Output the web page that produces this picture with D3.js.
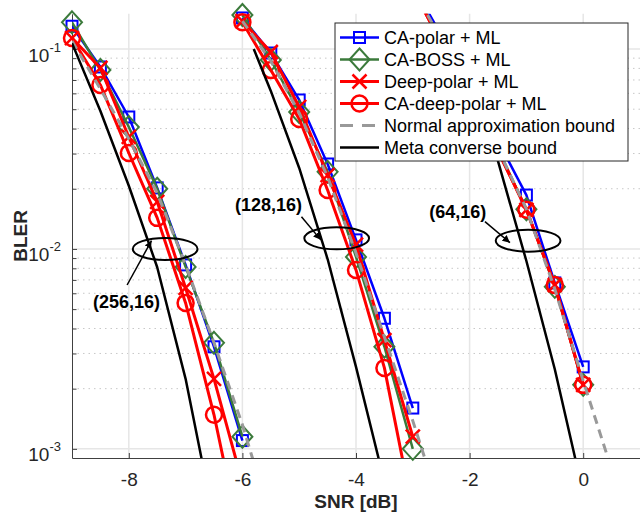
<!DOCTYPE html>
<html>
<head>
<meta charset="utf-8">
<script src="https://cdnjs.cloudflare.com/ajax/libs/d3/7.8.5/d3.min.js"></script>
<style>
body { margin: 0; background: #fff; }
svg { font-family: "Liberation Sans", Arial, Helvetica, sans-serif; }
</style>
</head>
<body>
<div id="chart"></div>
<script>
// SNR grid of each code (256,16), (128,16), (64,16)
var snrCodes = [
    [-9, -8.5, -8, -7.5, -7, -6.5, -6],
    [-6, -5.5, -5, -4.5, -4, -3.5, -3],
    [-3, -2.5, -2, -1.5, -1, -0.5, 0]
];
var codeLabels = ['(256,16)', '(128,16)', '(64,16)'];

var caPolar = [
    [0.13, 0.0813, 0.0457, 0.0202, 0.00832, 0.00324, 0.0011],
    [0.143, 0.0955, 0.0556, 0.0266, 0.0111, 0.0045, 0.0016],
    [0.209, 0.1175, 0.0631, 0.0347, 0.0186, 0.00676, 0.00257]
];
var caBoss = [
    [0.136, 0.0785, 0.0407, 0.02, 0.00813, 0.00339, 0.00115],
    [0.148, 0.0881, 0.0484, 0.0243, 0.00912, 0.00324, 0.001],
    [0.204, 0.1096, 0.0589, 0.0316, 0.0158, 0.00646, 0.00209]
];
var deepPolar = [
    [0.1135, 0.0804, 0.0363, 0.0172, 0.00638, 0.00224, 0.000676],
    [0.138, 0.0966, 0.0513, 0.0234, 0.0105, 0.0035, 0.00115],
    [0.2, 0.107, 0.0575, 0.0309, 0.0157, 0.0066, 0.00209]
];
var caDeepPolar = [
    [0.1135, 0.0661, 0.0302, 0.0143, 0.00537, 0.00148, 0.000316],
    [0.136, 0.0785, 0.0447, 0.0197, 0.00785, 0.00254, 0.00049],
    [0.2, 0.107, 0.0575, 0.0309, 0.0157, 0.0066, 0.00209]
];

var snrNormal = [
    [-9, -8.5, -8, -7.5, -7, -6.5, -6, -5.5],
    [-6, -5.5, -5, -4.5, -4, -3.5, -3, -2.5],
    [-3, -2.5, -2, -1.5, -1, -0.5, 0, 0.5]
];
var normalApprox = [
    [0.1096, 0.0631, 0.0355, 0.01905, 0.00832, 0.00339, 0.00132, 0.000447],
    [0.138, 0.0871, 0.0479, 0.0229, 0.00955, 0.00363, 0.00138, 0.0005],
    [0.2, 0.112, 0.0603, 0.0316, 0.0158, 0.0063, 0.00219, 0.00079]
];

var snrMeta = [
    [-9, -8.5, -8, -7.5, -7, -6.5],
    [-5.8, -5.5, -5, -4.5, -4, -3.5],
    [-2.3, -2, -1.5, -1, -0.5, 0]
];
var metaConverse = [
    [0.107, 0.049, 0.0207, 0.0081, 0.00224, 0.000437],
    [0.1, 0.0617, 0.0254, 0.0089, 0.00257, 0.000684],
    [0.1, 0.0617, 0.0275, 0.0087, 0.0025, 0.0006]
];

// annotation ellipses (centre in data units) and label / arrow anchors
var ellipseSnr = [-7.36, -4.34, -0.97];
var ellipseBler = [0.01, 0.0113, 0.011];
var labelSnr = [-8.04, -5.54, -2.21];
var labelBler = [0.00545, 0.0166, 0.01536];
var arrowFrom = [[-8.03, 0.0066], [-4.96, 0.0145], [-1.73, 0.0137]];
var arrowTo = [[-7.6, 0.011], [-4.62, 0.0111], [-1.29, 0.01075]];

var xTicks = [-8, -6, -4, -2, 0];
var yTicks = [1e-3, 1e-2, 1e-1];
var yTickExp = ['-3', '-2', '-1'];

var series = [
    { name: 'CA-polar + ML', snr: snrCodes, values: caPolar, color: '#0000ff', marker: 'square', width: 2.5 },
    { name: 'CA-BOSS + ML', snr: snrCodes, values: caBoss, color: '#3b7a3b', marker: 'diamond', width: 2.5 },
    { name: 'Deep-polar + ML', snr: snrCodes, values: deepPolar, color: '#ff0000', marker: 'cross', width: 3 },
    { name: 'CA-deep-polar + ML', snr: snrCodes, values: caDeepPolar, color: '#ff0000', marker: 'circle', width: 3 },
    { name: 'Normal approximation bound', snr: snrNormal, values: normalApprox, color: '#999999', marker: null, width: 3, dash: '9,6' },
    { name: 'Meta converse bound', snr: snrMeta, values: metaConverse, color: '#000000', marker: null, width: 2.5 }
];

var width = 640, height = 520;
var plotLeft = 72, plotRight = 640, plotTop = 13.8, plotBottom = 458;

var xScale = d3.scaleLinear().domain([-9, 1]).range([plotLeft, plotRight]);
var yScale = d3.scaleLog().domain([9e-4, 0.15]).range([plotBottom, plotTop]);

var svg = d3.select('#chart').append('svg')
    .attr('width', width)
    .attr('height', height);

var defs = svg.append('defs');
defs.append('clipPath').attr('id', 'plotclip')
    .append('rect')
    .attr('x', plotLeft).attr('y', plotTop)
    .attr('width', plotRight - plotLeft).attr('height', plotBottom - plotTop);

var arrowDef = defs.append('marker')
    .attr('id', 'arrowhead')
    .attr('viewBox', '0 0 10 10')
    .attr('refX', 10).attr('refY', 5)
    .attr('markerWidth', 5).attr('markerHeight', 5)
    .attr('markerUnits', 'strokeWidth')
    .attr('orient', 'auto');
arrowDef.append('path').attr('d', 'M0,0 L10,5 L0,10 Z').attr('fill', '#000');

// grid
var minorTicks = [];
[1e-3, 1e-2].forEach(function(dec) {
    for (var k = 2; k <= 9; k++) minorTicks.push(dec * k);
});

svg.append('g').attr('class', 'minor-grid').selectAll('line')
    .data(minorTicks).enter()
    .append('line')
    .attr('x1', plotLeft).attr('x2', plotRight)
    .attr('y1', function(d) { return yScale(d); })
    .attr('y2', function(d) { return yScale(d); })
    .attr('stroke', '#c8c8c8')
    .attr('stroke-width', 1)
    .attr('stroke-dasharray', '1.5,4');

svg.append('g').attr('class', 'major-grid').selectAll('line')
    .data(yTicks).enter()
    .append('line')
    .attr('x1', plotLeft).attr('x2', plotRight)
    .attr('y1', function(d) { return yScale(d); })
    .attr('y2', function(d) { return yScale(d); })
    .attr('stroke', '#e6e6e6')
    .attr('stroke-width', 1.5);

svg.append('g').attr('class', 'major-grid').selectAll('line')
    .data(xTicks).enter()
    .append('line')
    .attr('x1', function(d) { return xScale(d); })
    .attr('x2', function(d) { return xScale(d); })
    .attr('y1', plotTop).attr('y2', plotBottom)
    .attr('stroke', '#e6e6e6')
    .attr('stroke-width', 1.5);

// axes
var xAxis = svg.append('g')
    .attr('class', 'x axis')
    .attr('transform', 'translate(0,' + plotBottom + ')')
    .call(d3.axisBottom(xScale).tickValues(xTicks).tickSize(-5).tickSizeOuter(0).tickPadding(14.5)
        .tickFormat(function(d) { return String(d); }));
xAxis.select('.domain').attr('stroke', '#404040');
xAxis.selectAll('.tick line').attr('stroke', '#404040');
xAxis.selectAll('.tick text')
    .attr('font-size', 19)
    .attr('font-family', '"Liberation Sans", Arial, sans-serif')
    .attr('fill', '#262626');

var yAxis = svg.append('g')
    .attr('class', 'y axis')
    .attr('transform', 'translate(' + plotLeft + ',0)')
    .call(d3.axisLeft(yScale).tickValues(yTicks).tickSize(-5).tickSizeOuter(0).tickFormat(''));
yAxis.select('.domain').attr('stroke', '#404040');
yAxis.selectAll('.tick line').attr('stroke', '#404040');

var yMinor = svg.append('g')
    .attr('transform', 'translate(' + plotLeft + ',0)')
    .call(d3.axisLeft(yScale).tickValues(minorTicks).tickSize(-4.5).tickSizeOuter(0).tickFormat(''));
yMinor.select('.domain').remove();
yMinor.selectAll('.tick line').attr('stroke', '#404040');

var yLabels = svg.append('g').attr('class', 'y-labels').selectAll('text')
    .data(yTicks).enter()
    .append('text')
    .attr('x', 61)
    .attr('y', function(d) { return yScale(d) + 12.5; })
    .attr('text-anchor', 'end')
    .attr('fill', '#262626')
    .attr('font-size', 19);
yLabels.append('tspan').text('10');
yLabels.append('tspan')
    .attr('dy', -10)
    .attr('font-size', 13)
    .text(function(d, i) { return yTickExp[i]; });

svg.append('text')
    .attr('x', (plotLeft + plotRight) / 2)
    .attr('y', 508)
    .attr('text-anchor', 'middle')
    .attr('font-weight', 'bold')
    .attr('font-size', 19)
    .attr('fill', '#262626')
    .text('SNR [dB]');

svg.append('text')
    .attr('transform', 'translate(27,' + ((plotTop + plotBottom) / 2) + ') rotate(-90)')
    .attr('text-anchor', 'middle')
    .attr('font-weight', 'bold')
    .attr('font-size', 19)
    .attr('fill', '#262626')
    .text('BLER');

// curves
var line = d3.line()
    .x(function(d) { return xScale(d[0]); })
    .y(function(d) { return yScale(d[1]); });

function drawMarker(sel, type, color) {
    if (type === 'square') {
        sel.append('rect')
            .attr('x', -5.5).attr('y', -5.5)
            .attr('width', 11).attr('height', 11)
            .attr('fill', 'none').attr('stroke', color).attr('stroke-width', 2);
    } else if (type === 'diamond') {
        sel.append('path')
            .attr('d', 'M0,-11 L10,0 L0,11 L-10,0 Z')
            .attr('fill', 'none').attr('stroke', color).attr('stroke-width', 2);
    } else if (type === 'cross') {
        sel.append('path')
            .attr('d', 'M-7,-7 L7,7 M-7,7 L7,-7')
            .attr('fill', 'none').attr('stroke', color).attr('stroke-width', 2.5);
    } else if (type === 'circle') {
        sel.append('circle')
            .attr('r', 8)
            .attr('fill', 'none').attr('stroke', color).attr('stroke-width', 2.5);
    }
}

var yDom = yScale.domain(), xDom = xScale.domain();

series.forEach(function(s) {
    var g = svg.append('g').attr('class', 'series');
    s.values.forEach(function(vals, gi) {
        var pts = vals.map(function(v, i) { return [s.snr[gi][i], v]; });
        g.append('path')
            .datum(pts)
            .attr('clip-path', 'url(#plotclip)')
            .attr('fill', 'none')
            .attr('stroke', s.color)
            .attr('stroke-width', s.width)
            .attr('stroke-dasharray', s.dash || null)
            .attr('stroke-linejoin', 'round')
            .attr('d', line);
        if (s.marker) {
            var inside = pts.filter(function(p) {
                return p[1] >= yDom[0] && p[1] <= yDom[1] && p[0] >= xDom[0] && p[0] <= xDom[1];
            });
            g.selectAll('g.m' + gi)
                .data(inside).enter()
                .append('g')
                .attr('class', 'm' + gi)
                .attr('transform', function(d) { return 'translate(' + xScale(d[0]) + ',' + yScale(d[1]) + ')'; })
                .each(function() { drawMarker(d3.select(this), s.marker, s.color); });
        }
    });
});

// annotations
var ann = svg.append('g').attr('class', 'annotations');
ann.selectAll('ellipse')
    .data(ellipseSnr).enter()
    .append('ellipse')
    .attr('cx', function(d) { return xScale(d); })
    .attr('cy', function(d, i) { return yScale(ellipseBler[i]); })
    .attr('rx', xScale(0.57) - xScale(0))
    .attr('ry', yScale(0.01) - yScale(0.01 * Math.pow(10, 0.055)))
    .attr('fill', 'none')
    .attr('stroke', '#000')
    .attr('stroke-width', 2);

ann.selectAll('line.arrow')
    .data(arrowFrom).enter()
    .append('line')
    .attr('class', 'arrow')
    .attr('x1', function(d) { return xScale(d[0]); })
    .attr('y1', function(d) { return yScale(d[1]); })
    .attr('x2', function(d, i) { return xScale(arrowTo[i][0]); })
    .attr('y2', function(d, i) { return yScale(arrowTo[i][1]); })
    .attr('stroke', '#000')
    .attr('stroke-width', 1.5)
    .attr('marker-end', 'url(#arrowhead)');

ann.selectAll('text')
    .data(codeLabels).enter()
    .append('text')
    .attr('x', function(d, i) { return xScale(labelSnr[i]); })
    .attr('y', function(d, i) { return yScale(labelBler[i]); })
    .attr('dy', '0.35em')
    .attr('text-anchor', 'middle')
    .attr('font-weight', 'bold')
    .attr('font-size', 18)
    .attr('fill', '#000')
    .text(function(d) { return d; });

// legend
var legend = svg.append('g').attr('class', 'legend');
legend.append('rect')
    .attr('x', 335).attr('y', 23)
    .attr('width', 293).attr('height', 138)
    .attr('fill', '#fff')
    .attr('stroke', '#262626')
    .attr('stroke-width', 1);

var rows = legend.selectAll('g.row')
    .data(series).enter()
    .append('g')
    .attr('class', 'row')
    .attr('transform', function(d, i) { return 'translate(0,' + (37.5 + i * 22) + ')'; });

rows.append('line')
    .attr('x1', 340).attr('x2', 379)
    .attr('stroke', function(d) { return d.color; })
    .attr('stroke-width', function(d) { return d.width; })
    .attr('stroke-dasharray', function(d) { return d.dash ? '13,9' : null; });

rows.each(function(d) {
    if (d.marker) {
        var m = d3.select(this).append('g').attr('transform', 'translate(359.5,0)');
        drawMarker(m, d.marker, d.color);
    }
});

rows.append('text')
    .attr('x', 384)
    .attr('dy', '0.36em')
    .attr('font-size', 18)
    .attr('fill', '#000')
    .text(function(d) { return d.name; });
</script>
</body>
</html>
